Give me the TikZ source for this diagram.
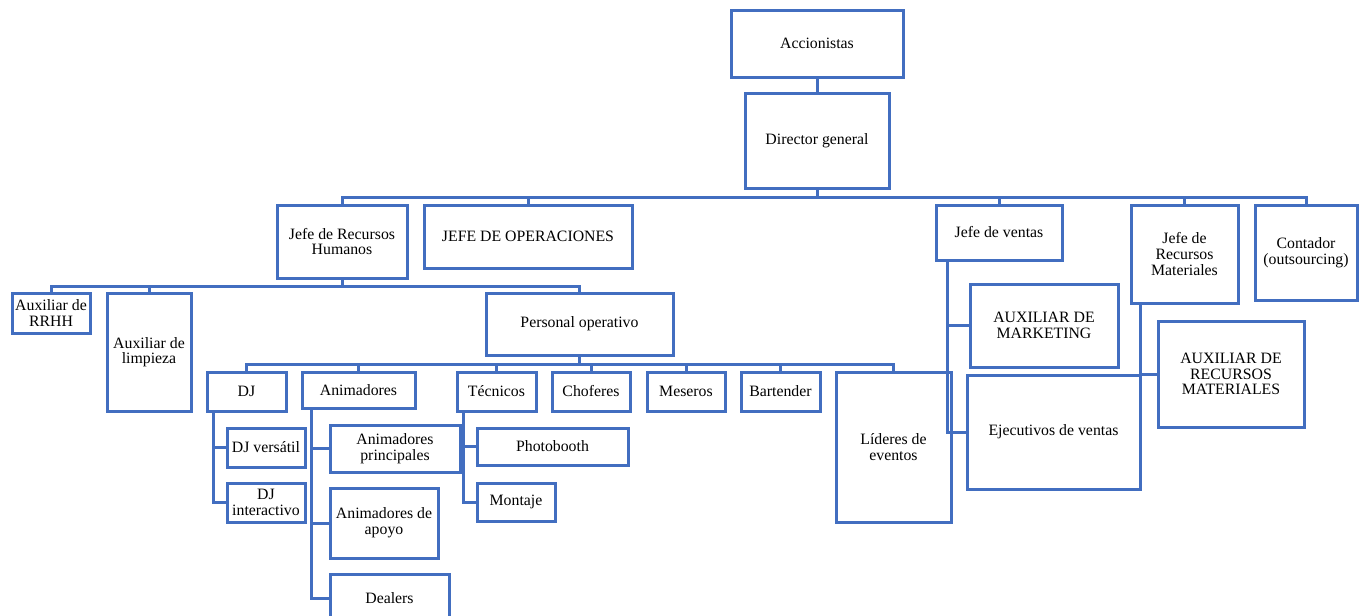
\documentclass[tikz,border=0pt]{standalone}
\usepackage{fontspec}
\setmainfont{Liberation Serif}
\definecolor{ob}{RGB}{66,110,192}
\begin{document}
\begin{tikzpicture}[x=1pt,y=-1pt,
  box/.style={draw=ob, line width=3pt, fill=white, inner sep=0pt, align=center, text=black,
    font=\fontsize{15.8}{15.6}\selectfont},
  conn/.style={draw=ob, line width=3pt}]
\useasboundingbox (0,0) rectangle (1366,616);
\clip (0,0) rectangle (1366,616);
\newcommand\obox[6]{\node[box, minimum width={#4-#2}, minimum height={#5-#3}] (#1) at ({(#2+#4)/2},{(#3+#5)/2}) {#6};}
\obox{acc}{731}{10}{903}{77}{Accionistas}
\obox{dir}{745}{93}{889}{188}{Director general}
\obox{rrhh}{277}{205}{407}{278}{Jefe de Recursos\\Humanos}
\obox{oper}{424}{205}{632}{268}{JEFE DE OPERACIONES}
\obox{ven}{936}{205}{1062}{260}{Jefe de ventas}
\obox{mat}{1131}{205}{1238}{303}{Jefe de\\Recursos\\Materiales}
\obox{cont}{1255}{205}{1357}{300}{Contador\\(outsourcing)}
\obox{auxr}{12}{293}{90}{333}{Auxiliar de\\RRHH}
\obox{auxl}{107}{293}{191}{411}{Auxiliar de\\limpieza}
\obox{pop}{486}{293}{673}{355}{Personal operativo}
\obox{dj}{207}{372}{286}{411}{DJ}
\obox{ani}{302}{372}{415}{408}{Animadores}
\obox{tec}{457}{372}{536}{411}{Técnicos}
\obox{cho}{552}{372}{630}{411}{Choferes}
\obox{mes}{647}{372}{725}{411}{Meseros}
\obox{bar}{741}{372}{820}{411}{Bartender}
\obox{lid}{836}{372}{951}{522}{Líderes de\\eventos}
\obox{djv}{227}{428}{305}{467}{DJ versátil}
\obox{dji}{227}{483}{305}{522}{DJ\\interactivo}
\obox{anp}{330}{425}{460}{472}{Animadores\\principales}
\obox{ana}{330}{488}{438}{558}{Animadores de\\apoyo}
\obox{dea}{330}{574}{449}{622}{Dealers}
\obox{pho}{477}{428}{628}{465}{Photobooth}
\obox{mon}{477}{483}{555}{521}{Montaje}
\obox{mkt}{970}{284}{1118}{367}{AUXILIAR DE\\MARKETING}
\obox{eje}{967}{375}{1140}{489}{Ejecutivos de ventas}
\obox{axm}{1158}{321}{1304}{427}{AUXILIAR DE\\RECURSOS\\MATERIALES}
% connectors
\draw[conn] (acc.south) -- (dir.north);
\coordinate (b1) at (817,197);
\draw[conn] (dir.south) -- (b1);
\foreach \c in {rrhh,oper,ven,mat,cont} \draw[conn] (\c.north) |- (b1);
\coordinate (b2) at (342,286);
\draw[conn] (rrhh.south) -- (b2);
\foreach \c in {auxr,auxl,pop} \draw[conn] (\c.north) |- (b2);
\coordinate (b3) at (579.5,364);
\draw[conn] (pop.south) -- (b3);
\foreach \c in {dj,ani,tec,cho,mes,bar,lid} \draw[conn] (\c.north) |- (b3);
\foreach \c in {djv,dji} \draw[conn] ([xshift=8pt]dj.south west) |- (\c.west);
\foreach \c in {anp,ana,dea} \draw[conn] ([xshift=11pt]ani.south west) |- (\c.west);
\foreach \c in {pho,mon} \draw[conn] ([xshift=8pt]tec.south west) |- (\c.west);
\foreach \c in {mkt,eje} \draw[conn] ([xshift=13pt]ven.south west) |- (\c.west);
\draw[conn] ([xshift=11pt]mat.south west) |- (axm.west);
\end{tikzpicture}
\end{document}
